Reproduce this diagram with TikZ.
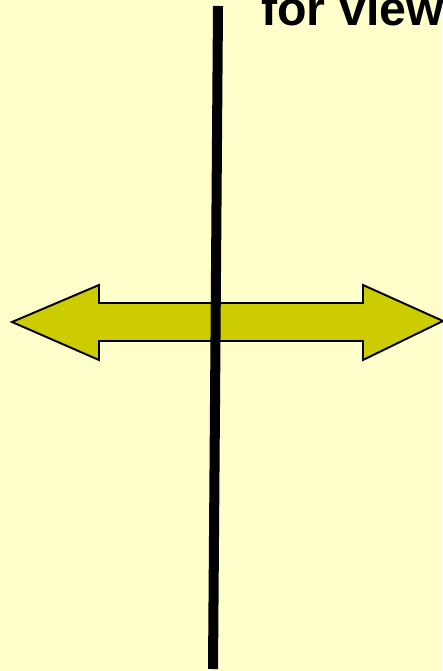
\documentclass[tikz,border=0pt]{standalone}
\usepackage{fontspec}
\setmainfont{Liberation Sans}
\definecolor{paper}{HTML}{FFFFCC}
\definecolor{olive}{HTML}{CCCC00}

\begin{document}
\begin{tikzpicture}[x=0.02cm, y=-0.02cm]
		\fill[paper] (0,0) rectangle (442,671);
		\useasboundingbox (0,0) rectangle (442,671);
		\draw[line width=1.1pt, fill=olive, line join=miter] (12,322) -- (99,285) -- (99,303) -- (363,303) -- (363,285) -- (443,321) -- (363,360) -- (363,341) -- (99,341) -- (99,360) -- cycle;
		\coordinate (top) at (218,6);
		\coordinate (bottom) at (213,669);
		\draw[line width=5.7pt] (top) -- (bottom);
		\node[anchor=base west, inner sep=0pt, font=\fontsize{27.5}{30}\selectfont\bfseries] (label) at (261,26) {for view};
	\end{tikzpicture}
\end{document}
